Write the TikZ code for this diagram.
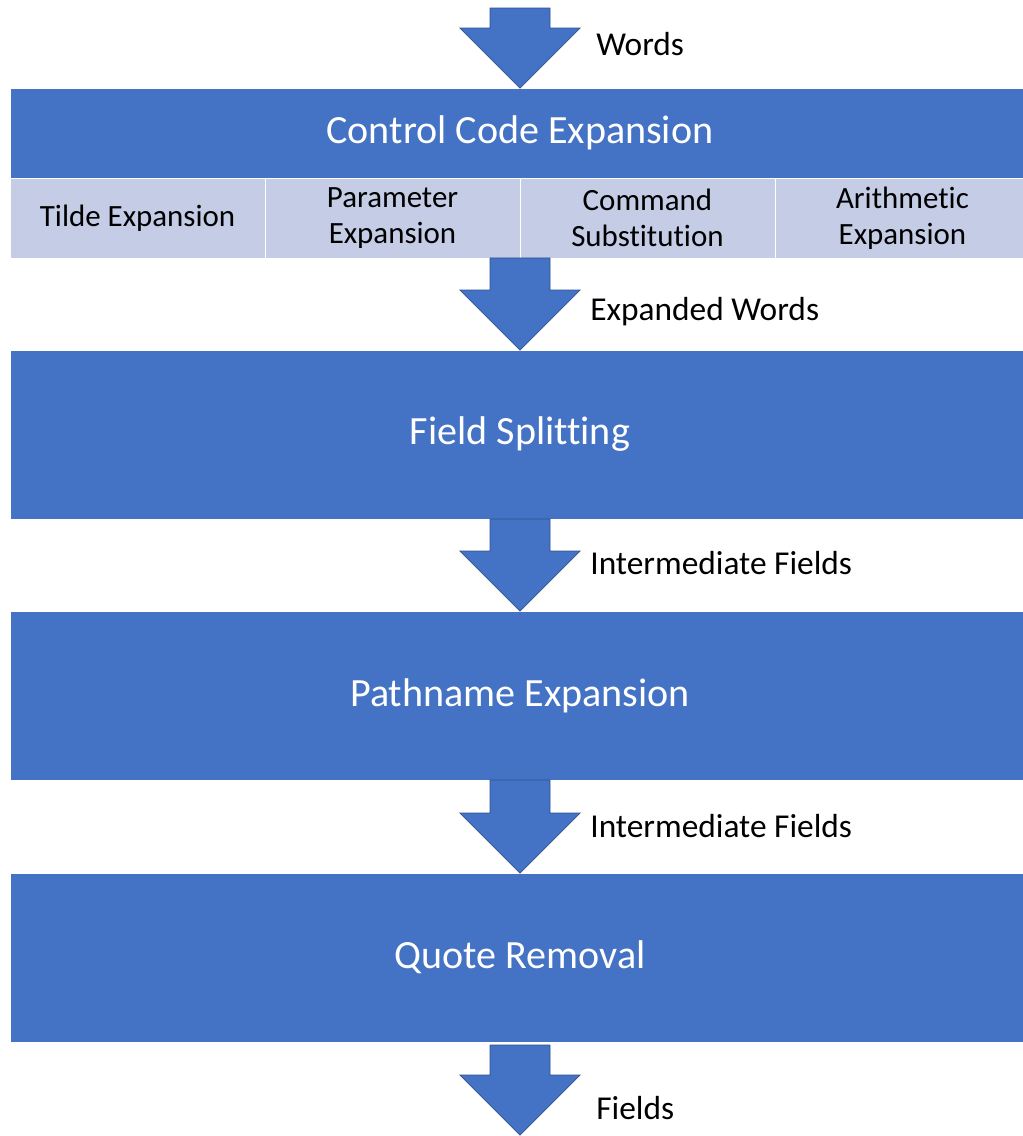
\documentclass[tikz,border=0pt]{standalone}
\usepackage{fontspec}
\setmainfont[Ligatures={NoCommon}]{Carlito}
\usetikzlibrary{positioning,calc}
\definecolor{boxblue}{RGB}{68,114,196}
\definecolor{cellblue}{RGB}{196,204,230}
\definecolor{edgeblue}{RGB}{47,82,143}

% block arrow from #1 down to its tip #2
\newcommand{\flowarrow}[2]{%
  \filldraw[arrowfill] ($(#1)+(-30,0)$) -- ($(#2)+(-30,-60)$) -- ($(#2)+(-60,-60)$)
    -- (#2) -- ($(#2)+(60,-60)$) -- ($(#2)+(30,-60)$) -- ($(#1)+(30,0)$) -- cycle;}

\begin{document}
\begin{tikzpicture}[x=0.02cm,y=-0.02cm,
  stage/.style={rectangle,fill=boxblue,draw=white,line width=0.4pt,text=white,
    minimum width=20.4cm,minimum height=3.38cm,inner sep=0pt,outer sep=0pt,
    font=\fontsize{22.8}{27}\selectfont},
  subcell/.style={rectangle,fill=cellblue,draw=white,line width=0.4pt,align=center,
    minimum width=5.1cm,minimum height=1.6cm,inner sep=0pt,outer sep=0pt,
    font=\fontsize{17.6}{20.5}\selectfont},
  lbl/.style={anchor=west,inner sep=0pt,font=\fontsize{19}{22}\selectfont},
  arrowfill/.style={fill=boxblue,draw=edgeblue,line width=0.4pt}]
  \useasboundingbox (0,0) rectangle (1022,1136);

  \node[stage,minimum height=1.8cm] (ccx) at (520,133) {Control Code Expansion};
  \node[subcell,anchor=north west] (tilde) at (ccx.south west) {Tilde Expansion};
  \node[subcell] (param) [right=0pt of tilde] {Parameter\\Expansion};
  \node[subcell] (cmd) [right=0pt of param] {Command\\Substitution};
  \node[subcell] (arith) [right=0pt of cmd] {Arithmetic\\Expansion};

  \node[stage] (fs) at (520,434.5) {Field Splitting};
  \node[stage] (pe) at (520,695.5) {Pathname Expansion};
  \node[stage] (qr) at (520,957.5) {Quote Removal};

  \coordinate (in) at (520,8);
  \coordinate (qrout) at (520,1045);
  \coordinate (out) at (520,1135);

  \flowarrow{in}{ccx.north}
  \flowarrow{param.south east}{fs.north}
  \flowarrow{fs.south}{pe.north}
  \flowarrow{pe.south}{qr.north}
  \flowarrow{qrout}{out}

  \node[lbl] (lwords) at (596,44) {Words};
  \node[lbl] (lexp) at (590,312) {Expanded Words};
  \node[lbl] (lint1) at (590,563) {Intermediate Fields};
  \node[lbl] (lint2) at (590,826) {Intermediate Fields};
  \node[lbl] (lfields) at (596,1108) {Fields};
\end{tikzpicture}
\end{document}
